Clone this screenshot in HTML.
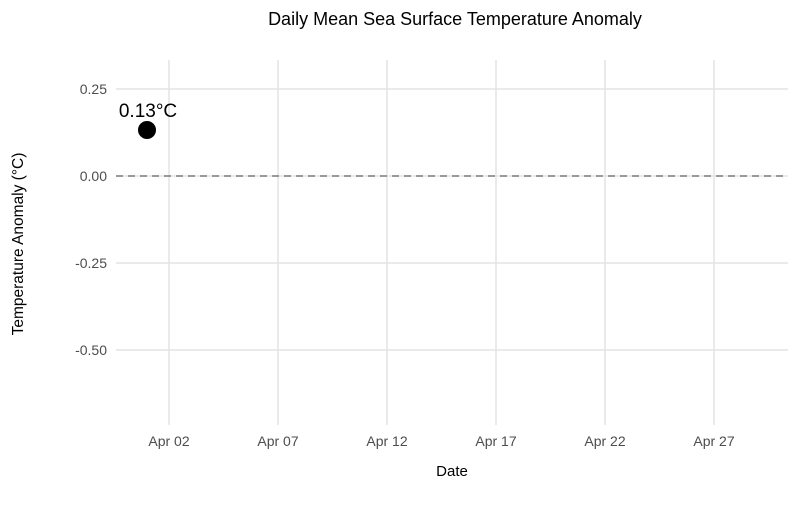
<!DOCTYPE html>
<html><head><style>
body{margin:0;background:#fff;}
svg text{font-family:"Liberation Sans",sans-serif;}
</style></head><body>
<svg width="800" height="500" xmlns="http://www.w3.org/2000/svg">
<rect width="800" height="500" fill="#fff"/>
<g stroke="#e3e3e3" stroke-width="1.5">
<line x1="116" x2="788" y1="89" y2="89"/>
<line x1="116" x2="788" y1="176" y2="176"/>
<line x1="116" x2="788" y1="263" y2="263"/>
<line x1="116" x2="788" y1="350" y2="350"/>
<line x1="169" x2="169" y1="60" y2="425"/>
<line x1="278" x2="278" y1="60" y2="425"/>
<line x1="387" x2="387" y1="60" y2="425"/>
<line x1="496" x2="496" y1="60" y2="425"/>
<line x1="605" x2="605" y1="60" y2="425"/>
<line x1="714" x2="714" y1="60" y2="425"/>
</g>
<line x1="116" x2="788" y1="176" y2="176" stroke="#666" stroke-width="1.3" stroke-dasharray="7,5"/>
<circle cx="147" cy="130" r="9" fill="#000"/>
<text x="148" y="117" font-size="19" text-anchor="middle" fill="#000">0.13°C</text>
<g font-size="14" fill="#4d4d4d" text-anchor="end">
<text x="107" y="94">0.25</text>
<text x="107" y="181">0.00</text>
<text x="107" y="268">-0.25</text>
<text x="107" y="355">-0.50</text>
</g>
<g font-size="14" fill="#4d4d4d" text-anchor="middle">
<text x="169" y="446">Apr 02</text>
<text x="278" y="446">Apr 07</text>
<text x="387" y="446">Apr 12</text>
<text x="496" y="446">Apr 17</text>
<text x="605" y="446">Apr 22</text>
<text x="714" y="446">Apr 27</text>
</g>
<text x="452" y="476" font-size="15" text-anchor="middle" fill="#000">Date</text>
<text transform="translate(23,244) rotate(-90)" font-size="15.5" text-anchor="middle" fill="#000">Temperature Anomaly (°C)</text>
<text x="455" y="25" font-size="18" text-anchor="middle" fill="#000">Daily Mean Sea Surface Temperature Anomaly</text>
</svg>
</body></html>
